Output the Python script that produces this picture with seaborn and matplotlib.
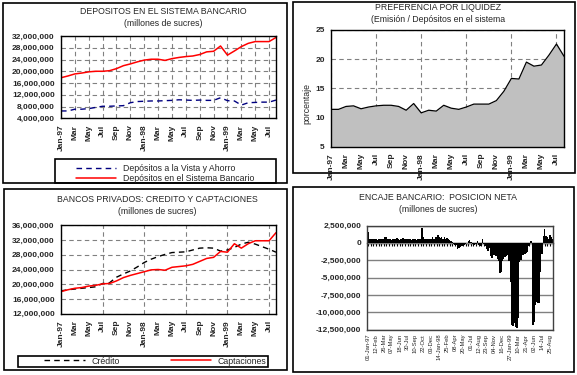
import numpy as np
import pandas as pd
import matplotlib
matplotlib.use('Agg')
import matplotlib.pyplot as plt
import matplotlib.ticker as mticker
from matplotlib.patches import Rectangle
import seaborn as sns

# meses Jan-97 .. Aug-99 (32 observaciones)
etiquetas_meses = ['Jan-97', 'Mar', 'May', 'Jul', 'Sep', 'Nov',
                   'Jan-98', 'Mar', 'May', 'Jul', 'Sep', 'Nov',
                   'Jan-99', 'Mar', 'May', 'Jul']

# depositos (millones de sucres, en millones)
dep_vista = [6.5, 6.5, 7.1, 7.1, 7.3, 7.7, 8.1, 8.1, 8.2, 8.3, 9.3, 9.7,
             9.8, 9.9, 9.9, 10.0, 10.1, 10.3, 10.2, 10.1, 10.2, 10.1, 10.1, 11.0,
             10.0, 9.9, 8.5, 9.3, 9.4, 9.5, 9.5, 10.2]
dep_sistema = [17.8, 18.4, 19.1, 19.4, 19.8, 20.0, 20.0, 20.2, 20.9, 21.9, 22.5, 23.2,
               23.8, 24.1, 24.1, 23.7, 24.3, 24.7, 25.0, 25.2, 25.7, 26.6, 26.8, 28.6,
               25.5, 26.9, 28.4, 29.5, 30.1, 30.1, 30.1, 31.5]

# preferencia por liquidez (%)
liquidez = [11.4, 11.4, 11.9, 12.0, 11.5, 11.8, 12.0, 12.1, 12.1, 11.9, 11.25, 12.4,
            10.8, 11.25, 11.1, 12.1, 11.6, 11.4, 11.8, 12.3, 12.3, 12.3, 12.9, 14.5,
            16.7, 16.6, 19.5, 18.8, 19.0, 20.7, 22.6, 20.5]

# bancos privados
credito = [18.2, 18.5, 18.7, 18.9, 19.1, 19.3, 20.2, 20.4, 21.9, 22.8, 23.6, 24.7,
           25.9, 26.8, 27.5, 28.1, 28.6, 28.7, 28.8, 29.3, 29.8, 29.9, 29.8, 29.0,
           29.3, 30.0, 30.9, 31.4, 30.9, 30.2, 29.5, 28.7]
captaciones = [18.0, 18.5, 18.9, 19.1, 19.5, 19.7, 20.1, 20.2, 20.9, 21.8, 22.4, 22.9,
               23.4, 23.9, 24.0, 23.8, 24.6, 24.8, 25.0, 25.4, 26.2, 27.0, 27.3, 28.9,
               28.7, 31.0, 29.8, 31.0, 31.8, 31.8, 31.8, 34.0]

# encaje bancario semanal desde 01-Jan-97 (millones)
encaje = [1.5, 0.6, 0.5, 0.5, 0.5, 0.5, 0.5, 0.4, 0.5, 0.5,
          0.5, 0.5, 0.6, 0.8, 0.8, 0.6, 0.5, 0.5, 0.4, 0.6,
          0.5, 0.5, 0.7, 0.6, 0.4, 0.6, 0.7, 0.7, 0.5, 0.5,
          0.5, 0.6, 0.5, 0.4, 0.5, 0.5, 0.6, 0.4, 0.6, 0.5,
          0.6, 2.2, 0.8, 0.5, 0.5, 0.5, 0.6, 0.5, 0.6, 0.8,
          0.6, 0.8, 0.8, 1.2, 0.9, 0.7, 0.8, 0.6, 0.8, 0.6,
          0.7, 0.5, 0.4, 0.2, 0.1, -0.2, -0.3, -0.3, -0.9, -0.8,
          -0.6, -0.5, -0.4, -0.3, -0.2, 0.0, 0.3, 0.4, 0.1, -0.2,
          -0.3, -0.3, -0.2, 0.2, -0.3, -0.5, -0.4, 0.6, -0.2, -0.4,
          -0.9, -1.2, -0.8, -1.9, -2.2, -1.8, -1.7, -1.9, -2.3, -2.6,
          -4.3, -4.2, -2.6, -2.3, -2.0, -1.9, -1.7, -2.6, -5.6, -11.8,
          -12.0, -11.6, -12.1, -12.2, -10.8, -2.7, -2.4, -1.8, -1.7, -1.6,
          -1.5, -1.3, -0.4, 0.2, 0.2, -11.8, -11.4, -9.0, -8.5, -8.6,
          -8.7, -4.2, -1.6, 1.0, 2.0, 1.0, 0.9, 0.6, 1.2, 0.8,
          0.5]
etiquetas_semanas = ['01-Jan-97', '12-Feb', '26-Mar', '07-May', '18-Jun', '30-Jul',
                     '10-Sep', '22-Oct', '03-Dec', '14-Jan-98', '25-Feb', '08-Apr',
                     '20-May', '01-Jul', '12-Aug', '23-Sep', '04-Nov', '16-Dec',
                     '27-Jan-99', '10-Mar', '21-Apr', '02-Jun', '14-Jul', '25-Aug']

sns.set_style('white')
plt.rcParams['font.family'] = ['Liberation Sans', 'DejaVu Sans']

W, H = 577, 375
fig = plt.figure(figsize=(W / 100, H / 100), dpi=100)


def fx(px):
    return px / W


def fy(py):
    return 1 - py / H


def axes_px(x0, y0, x1, y1):
    return fig.add_axes([fx(x0), fy(y1), (x1 - x0) / W, (y1 - y0) / H])


def marco(x0, y0, x1, y1):
    fig.patches.append(Rectangle((fx(x0), fy(y1)), (x1 - x0) / W, (y1 - y0) / H,
                                 transform=fig.transFigure, fill=False,
                                 ec='black', lw=1.2))


GRIS = '#808080'
DASH = (0, (4, 3))
fmt_miles = mticker.FuncFormatter(lambda v, p: f'{v:,.0f}')
fs_tick = 6
fs_tit = 6.3

meses = np.arange(len(dep_sistema))
df_dep = pd.DataFrame({'mes': meses,
                       'vista': np.array(dep_vista) * 1e6,
                       'sistema': np.array(dep_sistema) * 1e6})
df_liq = pd.DataFrame({'mes': meses, 'liq': liquidez})
df_bp = pd.DataFrame({'mes': meses,
                      'credito': np.array(credito) * 1e6,
                      'capt': np.array(captaciones) * 1e6})
df_enc = pd.DataFrame({'semana': np.arange(len(encaje)),
                       'valor': np.array(encaje) * 1e6})


def estilo_ejes(ax):
    for s in ax.spines.values():
        s.set_color('black')
        s.set_linewidth(1)
    ax.set_xlabel('')
    ax.set_ylabel('')
    ax.tick_params(axis='both', which='both', direction='out', length=3,
                   width=0.8, color='black', pad=1.5)
    for lab in ax.get_yticklabels():
        lab.set_fontsize(fs_tick)
        lab.set_fontweight('bold')


def ticks_semestrales(ax):
    # grid/ticks every 6 months, labels every 2 months
    ax.xaxis.remove_overlapping_locs = False
    ax.set_xticks(np.arange(0, 31, 2))
    ax.set_xticklabels(etiquetas_meses, rotation=90, fontsize=fs_tick, fontweight='bold')
    ax.set_xticks(np.arange(0, 31, 6), minor=True)
    ax.grid(True, which='minor', axis='x', color=GRIS, linestyle=DASH, lw=0.8)
    ax.grid(True, which='major', axis='y', color=GRIS, linestyle=DASH, lw=0.8)


# ---------- panel 1 ----------
marco(3, 3, 287, 183)
ax1 = axes_px(61, 36, 276, 118.3)
sns.lineplot(data=df_dep, x='mes', y='vista', color='#000080', lw=1,
             linestyle=DASH, ax=ax1)
sns.lineplot(data=df_dep, x='mes', y='sistema', color='red', lw=1.1, ax=ax1)
ax1.set_xlim(0, 31)
ax1.set_ylim(4e6, 32e6)
ax1.set_yticks(np.arange(4e6, 32.1e6, 4e6))
ax1.yaxis.set_major_formatter(fmt_miles)
ax1.set_xticks(np.arange(0, 31, 2))
ax1.set_xticklabels(etiquetas_meses, rotation=90, fontsize=fs_tick, fontweight='bold')
ax1.grid(True, color=GRIS, linestyle=DASH, lw=0.8)
estilo_ejes(ax1)
fig.text(fx(163), fy(12), 'DEPOSITOS EN EL SISTEMA BANCARIO', ha='center', va='center', fontsize=fs_tit)
fig.text(fx(163), fy(24), '(millones de sucres)', ha='center', va='center', fontsize=fs_tit)
marco(55, 159, 276, 183)
h1 = ax1.get_lines()
fig.legend(h1[:2], ['Depósitos a la Vista y Ahorro', 'Depósitos en el Sistema Bancario'],
           loc='upper left', bbox_to_anchor=(fx(70), fy(158)), frameon=False,
           fontsize=fs_tit, handlelength=4.6, handletextpad=0.8, labelspacing=0.15,
           borderpad=0.2)

# ---------- panel 2 ----------
marco(293, 2, 575, 173)
ax2 = axes_px(331, 30, 564, 146.7)
ax2.fill_between(df_liq['mes'], df_liq['liq'], 0, color='#C0C0C0', lw=0, zorder=1)
sns.lineplot(data=df_liq, x='mes', y='liq', color='black', lw=0.9, ax=ax2, zorder=2)
ax2.set_xlim(0, 31)
ax2.set_ylim(5, 25)
ax2.set_yticks(np.arange(5, 26, 5))
ticks_semestrales(ax2)
ax2.set_axisbelow(True)
estilo_ejes(ax2)
ax2.tick_params(axis='x', which='major', length=0, pad=4.5)
fig.text(fx(438), fy(7), 'PREFERENCIA POR LIQUIDEZ', ha='center', va='center', fontsize=fs_tit)
fig.text(fx(438), fy(20), '(Emisión / Depósitos en el sistema', ha='center', va='center', fontsize=fs_tit)
fig.text(fx(307), fy(103), 'porcentaje', ha='center', va='center', rotation=90, fontsize=fs_tit)

# ---------- panel 3 ----------
marco(4, 189, 287, 370)
ax3 = axes_px(61, 225.3, 276, 313.7)
sns.lineplot(data=df_bp, x='mes', y='credito', color='black', lw=1,
             linestyle=DASH, ax=ax3)
sns.lineplot(data=df_bp, x='mes', y='capt', color='red', lw=1.1, ax=ax3)
ax3.set_xlim(0, 31)
ax3.set_ylim(12e6, 36e6)
ax3.set_yticks(np.arange(12e6, 36.1e6, 4e6))
ax3.yaxis.set_major_formatter(fmt_miles)
ticks_semestrales(ax3)
estilo_ejes(ax3)
ax3.tick_params(axis='x', which='major', length=0, pad=4.5)
fig.text(fx(157), fy(200), 'BANCOS PRIVADOS: CREDITO Y CAPTACIONES', ha='center', va='center', fontsize=fs_tit)
fig.text(fx(157), fy(211), '(millones de sucres)', ha='center', va='center', fontsize=fs_tit)
marco(18, 356, 268, 366.5)
h3 = ax3.get_lines()
fig.legend(h3[:2], ['Crédito', 'Captaciones'], ncol=2,
           loc='center left', bbox_to_anchor=(fx(40), fy(361)), frameon=False,
           fontsize=fs_tit, handlelength=4.6, handletextpad=0.8, columnspacing=5.8,
           borderpad=0.0)

# ---------- panel 4 ----------
marco(293, 187, 574, 372)
ax4 = axes_px(367.3, 225.5, 553.3, 329.7)
sns.barplot(data=df_enc, x='semana', y='valor', color='black', saturation=1,
            width=1, linewidth=0, errorbar=None, ax=ax4)
ax4.set_xlim(-0.5, len(encaje) - 0.5)
ymin, ymax = -12.5e6, 2.5e6
ax4.set_ylim(ymin, ymax)
ax4.set_yticks(np.arange(ymin, ymax + 1, 2.5e6))
ax4.yaxis.set_major_formatter(fmt_miles)
ax4.yaxis.grid(True, color=GRIS, lw=1)
ax4.set_axisbelow(True)
ax4.set_xticks(np.arange(0, len(encaje), 6))
ax4.set_xticklabels(etiquetas_semanas, rotation=90, fontsize=4.2)
ax4.set_xticks(np.arange(0, len(encaje), 2), minor=True)
estilo_ejes(ax4)
for s in ax4.spines.values():
    s.set_color('#404040')
ax4.tick_params(axis='x', which='both', length=2, pad=1)
cero = (0 - ymin) / (ymax - ymin)
sec = ax4.secondary_xaxis(cero)
sec.set_xticks(np.arange(0, len(encaje), 2))
sec.tick_params(axis='x', direction='in', length=2.5, width=0.8, labeltop=False,
                labelbottom=False, color='black')
sec.spines['top'].set_visible(True)
sec.spines['top'].set_linewidth(1)
fig.text(fx(438), fy(197), 'ENCAJE BANCARIO:  POSICION NETA', ha='center', va='center', fontsize=fs_tit)
fig.text(fx(438), fy(209), '(millones de sucres)', ha='center', va='center', fontsize=fs_tit)

fig.savefig('out.png', dpi=100)
